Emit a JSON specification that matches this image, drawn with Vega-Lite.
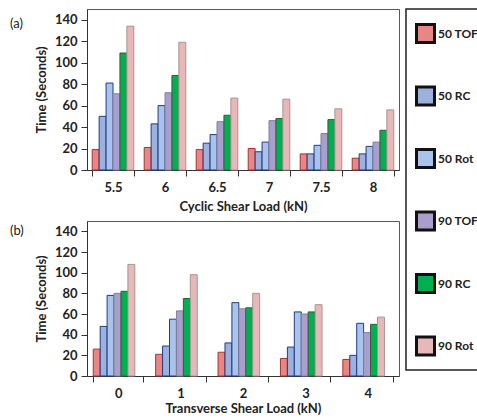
{
  "$schema": "https://vega.github.io/schema/vega-lite/v6.json",
  "background": "white",
  "padding": {"left": 9, "top": 8, "right": 0, "bottom": 5},
  "config": {
    "font": "Lato",
    "view": {"stroke": "#595959", "strokeWidth": 1},
    "axis": {"labelFont": "Lato", "labelFontWeight": "bold", "labelFontSize": 13, "titleFont": "Lato", "titleFontWeight": "bold", "titleFontSize": 13, "grid": false, "domainColor": "#333333", "tickColor": "#333333", "labelColor": "#222222", "titleColor": "#222222", "tickSize": 6},
    "title": {"font": "Lato", "fontSize": 13, "fontWeight": "normal", "color": "#222222"}
  },
  "spacing": 6,
  "resolve": {"scale": {"color": "shared"}},
  "vconcat": [
    {
      "title": {"text": "(a)", "anchor": "start", "frame": "group", "dx": -77, "dy": 26},
      "width": 312,
      "height": 161,
      "data": {"values": [
        {"load": "5.5", "series": "50 TOF", "time": 19}, {"load": "5.5", "series": "50 RC", "time": 50}, {"load": "5.5", "series": "50 Rot", "time": 81}, {"load": "5.5", "series": "90 TOF", "time": 71}, {"load": "5.5", "series": "90 RC", "time": 109}, {"load": "5.5", "series": "90 Rot", "time": 134},
        {"load": "6", "series": "50 TOF", "time": 21}, {"load": "6", "series": "50 RC", "time": 43}, {"load": "6", "series": "50 Rot", "time": 60}, {"load": "6", "series": "90 TOF", "time": 72}, {"load": "6", "series": "90 RC", "time": 88}, {"load": "6", "series": "90 Rot", "time": 119},
        {"load": "6.5", "series": "50 TOF", "time": 19}, {"load": "6.5", "series": "50 RC", "time": 25}, {"load": "6.5", "series": "50 Rot", "time": 33}, {"load": "6.5", "series": "90 TOF", "time": 45}, {"load": "6.5", "series": "90 RC", "time": 51}, {"load": "6.5", "series": "90 Rot", "time": 67},
        {"load": "7", "series": "50 TOF", "time": 20}, {"load": "7", "series": "50 RC", "time": 17}, {"load": "7", "series": "50 Rot", "time": 26}, {"load": "7", "series": "90 TOF", "time": 46}, {"load": "7", "series": "90 RC", "time": 48}, {"load": "7", "series": "90 Rot", "time": 66},
        {"load": "7.5", "series": "50 TOF", "time": 15}, {"load": "7.5", "series": "50 RC", "time": 15}, {"load": "7.5", "series": "50 Rot", "time": 23}, {"load": "7.5", "series": "90 TOF", "time": 34}, {"load": "7.5", "series": "90 RC", "time": 47}, {"load": "7.5", "series": "90 Rot", "time": 57},
        {"load": "8", "series": "50 TOF", "time": 11}, {"load": "8", "series": "50 RC", "time": 15}, {"load": "8", "series": "50 Rot", "time": 22}, {"load": "8", "series": "90 TOF", "time": 26}, {"load": "8", "series": "90 RC", "time": 37}, {"load": "8", "series": "90 Rot", "time": 56}
      ]},
      "mark": {"type": "bar", "strokeWidth": 1},
      "encoding": {
        "x": {"field": "load", "type": "ordinal", "sort": ["5.5", "6", "6.5", "7", "7.5", "8"], "scale": {"paddingInner": 0.2, "paddingOuter": 0.1}, "axis": {"labelAngle": 0, "tickBand": "extent", "title": "Cyclic Shear Load (kN)", "labelPadding": 5, "titlePadding": 6}},
        "xOffset": {"field": "series", "type": "nominal", "sort": ["50 TOF", "50 RC", "50 Rot", "90 TOF", "90 RC", "90 Rot"]},
        "y": {"field": "time", "type": "quantitative", "scale": {"domain": [0, 150]}, "axis": {"values": [0, 20, 40, 60, 80, 100, 120, 140], "title": "Time (Seconds)", "titlePadding": 6, "labelPadding": 4}},
        "color": {"field": "series", "type": "nominal", "scale": {"domain": ["50 TOF", "50 RC", "50 Rot", "90 TOF", "90 RC", "90 Rot"], "range": ["#e88686", "#9cb2dc", "#a9c3ea", "#aa9fcc", "#00b050", "#e6b9b8"]},
          "legend": {"title": " ", "titleFontSize": 1, "titlePadding": 4, "orient": "right", "offset": 6, "padding": 9, "strokeColor": "#222222", "symbolType": "square", "symbolSize": 324, "symbolStrokeWidth": 3, "symbolStrokeColor": "#111111", "rowPadding": 31.5, "labelFont": "Lato", "labelFontWeight": "bold", "labelFontSize": 12, "labelColor": "#222222", "labelOffset": 2,
            "encode": {"legend": {"update": {"strokeWidth": {"value": 1.5}}}}}},
        "stroke": {"condition": [{"test": "datum.series === '50 TOF'", "value": "#a83232"}, {"test": "datum.series === '50 RC' || datum.series === '50 Rot'", "value": "#1f3c88"}, {"test": "datum.series === '90 RC'", "value": "#3a5a3a"}, {"test": "datum.series === '90 TOF'", "value": "#80809c"}], "value": "#a89494"}
      }
    },
    {
      "title": {"text": "(b)", "anchor": "start", "frame": "group", "dx": -77, "dy": 21},
      "width": 312,
      "height": 155,
      "data": {"values": [
        {"load": "0", "series": "50 TOF", "time": 26}, {"load": "0", "series": "50 RC", "time": 48}, {"load": "0", "series": "50 Rot", "time": 78}, {"load": "0", "series": "90 TOF", "time": 80}, {"load": "0", "series": "90 RC", "time": 82}, {"load": "0", "series": "90 Rot", "time": 108},
        {"load": "1", "series": "50 TOF", "time": 21}, {"load": "1", "series": "50 RC", "time": 29}, {"load": "1", "series": "50 Rot", "time": 55}, {"load": "1", "series": "90 TOF", "time": 63}, {"load": "1", "series": "90 RC", "time": 75}, {"load": "1", "series": "90 Rot", "time": 98},
        {"load": "2", "series": "50 TOF", "time": 23}, {"load": "2", "series": "50 RC", "time": 32}, {"load": "2", "series": "50 Rot", "time": 71}, {"load": "2", "series": "90 TOF", "time": 65}, {"load": "2", "series": "90 RC", "time": 66}, {"load": "2", "series": "90 Rot", "time": 80},
        {"load": "3", "series": "50 TOF", "time": 17}, {"load": "3", "series": "50 RC", "time": 28}, {"load": "3", "series": "50 Rot", "time": 62}, {"load": "3", "series": "90 TOF", "time": 60}, {"load": "3", "series": "90 RC", "time": 62}, {"load": "3", "series": "90 Rot", "time": 69},
        {"load": "4", "series": "50 TOF", "time": 16}, {"load": "4", "series": "50 RC", "time": 20}, {"load": "4", "series": "50 Rot", "time": 51}, {"load": "4", "series": "90 TOF", "time": 42}, {"load": "4", "series": "90 RC", "time": 50}, {"load": "4", "series": "90 Rot", "time": 57}
      ]},
      "mark": {"type": "bar", "strokeWidth": 1},
      "encoding": {
        "x": {"field": "load", "type": "ordinal", "sort": ["0", "1", "2", "3", "4"], "scale": {"paddingInner": 0.2, "paddingOuter": 0.1}, "axis": {"labelAngle": 0, "tickBand": "extent", "title": "Transverse Shear Load (kN)", "labelPadding": 5, "titlePadding": 2}},
        "xOffset": {"field": "series", "type": "nominal", "sort": ["50 TOF", "50 RC", "50 Rot", "90 TOF", "90 RC", "90 Rot"]},
        "y": {"field": "time", "type": "quantitative", "scale": {"domain": [0, 150]}, "axis": {"values": [0, 20, 40, 60, 80, 100, 120, 140], "title": "Time (Seconds)", "titlePadding": 6, "labelPadding": 4}},
        "color": {"field": "series", "type": "nominal"},
        "stroke": {"condition": [{"test": "datum.series === '50 TOF'", "value": "#a83232"}, {"test": "datum.series === '50 RC' || datum.series === '50 Rot'", "value": "#1f3c88"}, {"test": "datum.series === '90 RC'", "value": "#3a5a3a"}, {"test": "datum.series === '90 TOF'", "value": "#80809c"}], "value": "#a89494"}
      }
    }
  ]
}
